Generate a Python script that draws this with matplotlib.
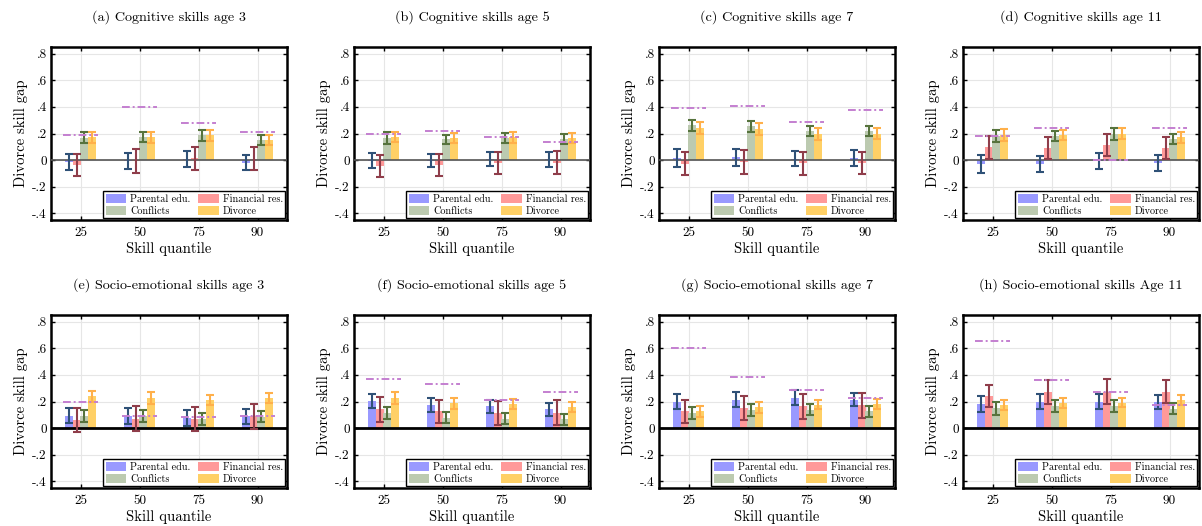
import matplotlib
matplotlib.use('Agg')
import matplotlib.pyplot as plt
from matplotlib.patches import Patch
import numpy as np

plt.rcParams['font.family'] = ['cmr10', 'DejaVu Serif']
plt.rcParams['axes.formatter.use_mathtext'] = True
plt.rcParams['mathtext.fontset'] = 'cm'

quantiles = ['25', '50', '75', '90']
titles = [
    '(a) Cognitive skills age 3', '(b) Cognitive skills age 5',
    '(c) Cognitive skills age 7', '(d) Cognitive skills age 11',
    '(e) Socio-emotional skills age 3', '(f) Socio-emotional skills age 5',
    '(g) Socio-emotional skills age 7', '(h) Socio-emotional skills Age 11',
]
series_names = ['Parental edu.', 'Financial res.', 'Conflicts', 'Divorce']
y_ticks = [-0.4, -0.2, 0, 0.2, 0.4, 0.6, 0.8]
y_tick_labels = ['-.4', '-.2', '0', '.2', '.4', '.6', '.8']

# one row per panel (a)..(h), one column per quantile
parental_edu = [
    [-0.015, -0.010, 0.005, -0.020],
    [-0.005, -0.005, 0.010, 0.005],
    [0.015, 0.022, 0.012, 0.018],
    [-0.030, -0.030, -0.005, -0.025],
    [0.094, 0.090, 0.075, 0.090],
    [0.205, 0.175, 0.165, 0.140],
    [0.200, 0.215, 0.230, 0.215],
    [0.180, 0.200, 0.200, 0.195],
]
parental_edu_ci = [
    [0.063, 0.060, 0.060, 0.055],
    [0.057, 0.048, 0.053, 0.053],
    [0.065, 0.063, 0.055, 0.060],
    [0.065, 0.063, 0.060, 0.060],
    [0.057, 0.058, 0.058, 0.057],
    [0.055, 0.053, 0.050, 0.050],
    [0.055, 0.058, 0.055, 0.050],
    [0.060, 0.055, 0.055, 0.053],
]
financial_res = [
    [-0.040, -0.007, 0.013, 0.010],
    [-0.045, -0.038, -0.022, -0.018],
    [-0.027, -0.015, -0.025, -0.022],
    [0.095, 0.090, 0.113, 0.090],
    [0.060, 0.070, 0.065, 0.090],
    [0.140, 0.125, 0.115, 0.115],
    [0.125, 0.150, 0.165, 0.170],
    [0.240, 0.270, 0.275, 0.275],
]
financial_res_ci = [
    [0.083, 0.087, 0.088, 0.085],
    [0.085, 0.083, 0.083, 0.083],
    [0.088, 0.090, 0.085, 0.083],
    [0.085, 0.085, 0.085, 0.085],
    [0.090, 0.095, 0.090, 0.093],
    [0.093, 0.088, 0.090, 0.093],
    [0.083, 0.088, 0.093, 0.093],
    [0.085, 0.088, 0.093, 0.090],
]
conflicts = [
    [0.168, 0.175, 0.185, 0.150],
    [0.165, 0.155, 0.165, 0.160],
    [0.262, 0.255, 0.220, 0.220],
    [0.180, 0.180, 0.195, 0.160],
    [0.090, 0.090, 0.068, 0.085],
    [0.110, 0.078, 0.070, 0.065],
    [0.115, 0.135, 0.138, 0.125],
    [0.148, 0.165, 0.165, 0.145],
]
conflicts_ci = [
    [0.042, 0.040, 0.040, 0.040],
    [0.045, 0.037, 0.040, 0.040],
    [0.043, 0.040, 0.040, 0.040],
    [0.045, 0.040, 0.045, 0.040],
    [0.045, 0.045, 0.043, 0.040],
    [0.045, 0.043, 0.040, 0.040],
    [0.045, 0.045, 0.043, 0.040],
    [0.048, 0.045, 0.045, 0.040],
]
divorce = [
    [0.170, 0.170, 0.185, 0.150],
    [0.175, 0.165, 0.170, 0.165],
    [0.240, 0.235, 0.195, 0.200],
    [0.190, 0.190, 0.200, 0.170],
    [0.240, 0.225, 0.210, 0.225],
    [0.225, 0.185, 0.178, 0.158],
    [0.125, 0.155, 0.175, 0.182],
    [0.175, 0.190, 0.190, 0.210],
]
divorce_ci = [
    [0.043, 0.043, 0.045, 0.040],
    [0.040, 0.037, 0.040, 0.040],
    [0.045, 0.045, 0.045, 0.040],
    [0.045, 0.040, 0.040, 0.040],
    [0.040, 0.045, 0.040, 0.040],
    [0.045, 0.040, 0.038, 0.038],
    [0.040, 0.040, 0.035, 0.038],
    [0.040, 0.040, 0.035, 0.038],
]
raw_gap = [
    [0.190, 0.400, 0.278, 0.212],
    [0.194, 0.220, 0.170, 0.135],
    [0.390, 0.410, 0.290, 0.380],
    [0.180, 0.240, 0.000, 0.240],
    [0.194, 0.090, 0.080, 0.092],
    [0.370, 0.335, 0.210, 0.275],
    [0.605, 0.385, 0.290, 0.225],
    [0.655, 0.365, 0.270, 0.175],
]

face_colors = ['#9999ff', '#ff9999', '#bccab0', '#ffd066']
err_colors = ['#2f5177', '#8f3d4a', '#56733d', '#ffb04a']
raw_color = '#c47fd0'

values = [parental_edu, financial_res, conflicts, divorce]
cis = [parental_edu_ci, financial_res_ci, conflicts_ci, divorce_ci]

W, H = 1202, 526
fig = plt.figure(figsize=(W / 100, H / 100), dpi=100)
lefts = [51, 354, 659, 963]
tops = [47, 315]
ax_w, ax_h = 236, 173

x = np.arange(1, len(quantiles) + 1)
offsets = [-0.2, -0.067, 0.067, 0.2]
bar_w = 0.135

for p in range(8):
    row, col = divmod(p, 4)
    ax = fig.add_axes([lefts[col] / W, 1 - (tops[row] + ax_h) / H, ax_w / W, ax_h / H])
    ax.set_axisbelow(True)
    ax.grid(True, color='#e6e6e6', linewidth=0.8)
    for s in range(4):
        ax.bar(x + offsets[s], values[s][p], width=bar_w, color=face_colors[s],
               linewidth=0, zorder=2)
    if row == 0:
        ax.axhline(0, color='#555555', linewidth=1.2, zorder=3)
    else:
        ax.axhline(0, color='black', linewidth=2.0, zorder=3)
    for s in range(4):
        ax.errorbar(x + offsets[s], values[s][p], yerr=cis[s][p], fmt='none',
                    ecolor=err_colors[s], elinewidth=1.5, capsize=3.2, capthick=1.5,
                    zorder=4)
    ax.hlines(raw_gap[p], x - 0.3, x + 0.3, colors=raw_color, linewidth=1.4,
              linestyles=(0, (4, 1.5, 1, 1.5)), zorder=5)

    ax.set_xlim(0.5, 4.5)
    ax.set_ylim(-0.45, 0.85)
    ax.set_xticks(x)
    ax.set_xticklabels(quantiles)
    ax.set_yticks(y_ticks)
    ax.set_yticklabels(y_tick_labels)
    ax.tick_params(direction='in', length=3, width=1, top=True, right=True,
                   labelsize=9.5, pad=3)
    ax.tick_params(axis='x', pad=5)
    for sp in ax.spines.values():
        sp.set_linewidth(1.8)
    ax.set_xlabel('Skill quantile', fontsize=10.6, labelpad=2)
    ax.set_ylabel('Divorce skill gap', fontsize=10.6, labelpad=3)
    ax.set_title(titles[p], fontsize=10.2, pad=19)

    handles = [Patch(facecolor=face_colors[i], edgecolor='none', label=series_names[i])
               for i in [0, 2, 1, 3]]
    leg = ax.legend(handles=handles, loc='lower right', ncol=2, fontsize=7.3,
                    fancybox=False, framealpha=1, edgecolor='black',
                    borderaxespad=0.15, handlelength=2.0, handleheight=1.0,
                    handletextpad=0.4, columnspacing=0.8, labelspacing=0.2,
                    borderpad=0.25)
    leg.get_frame().set_linewidth(1.0)
    leg.set_zorder(6)

fig.savefig('out.png', dpi=100)
